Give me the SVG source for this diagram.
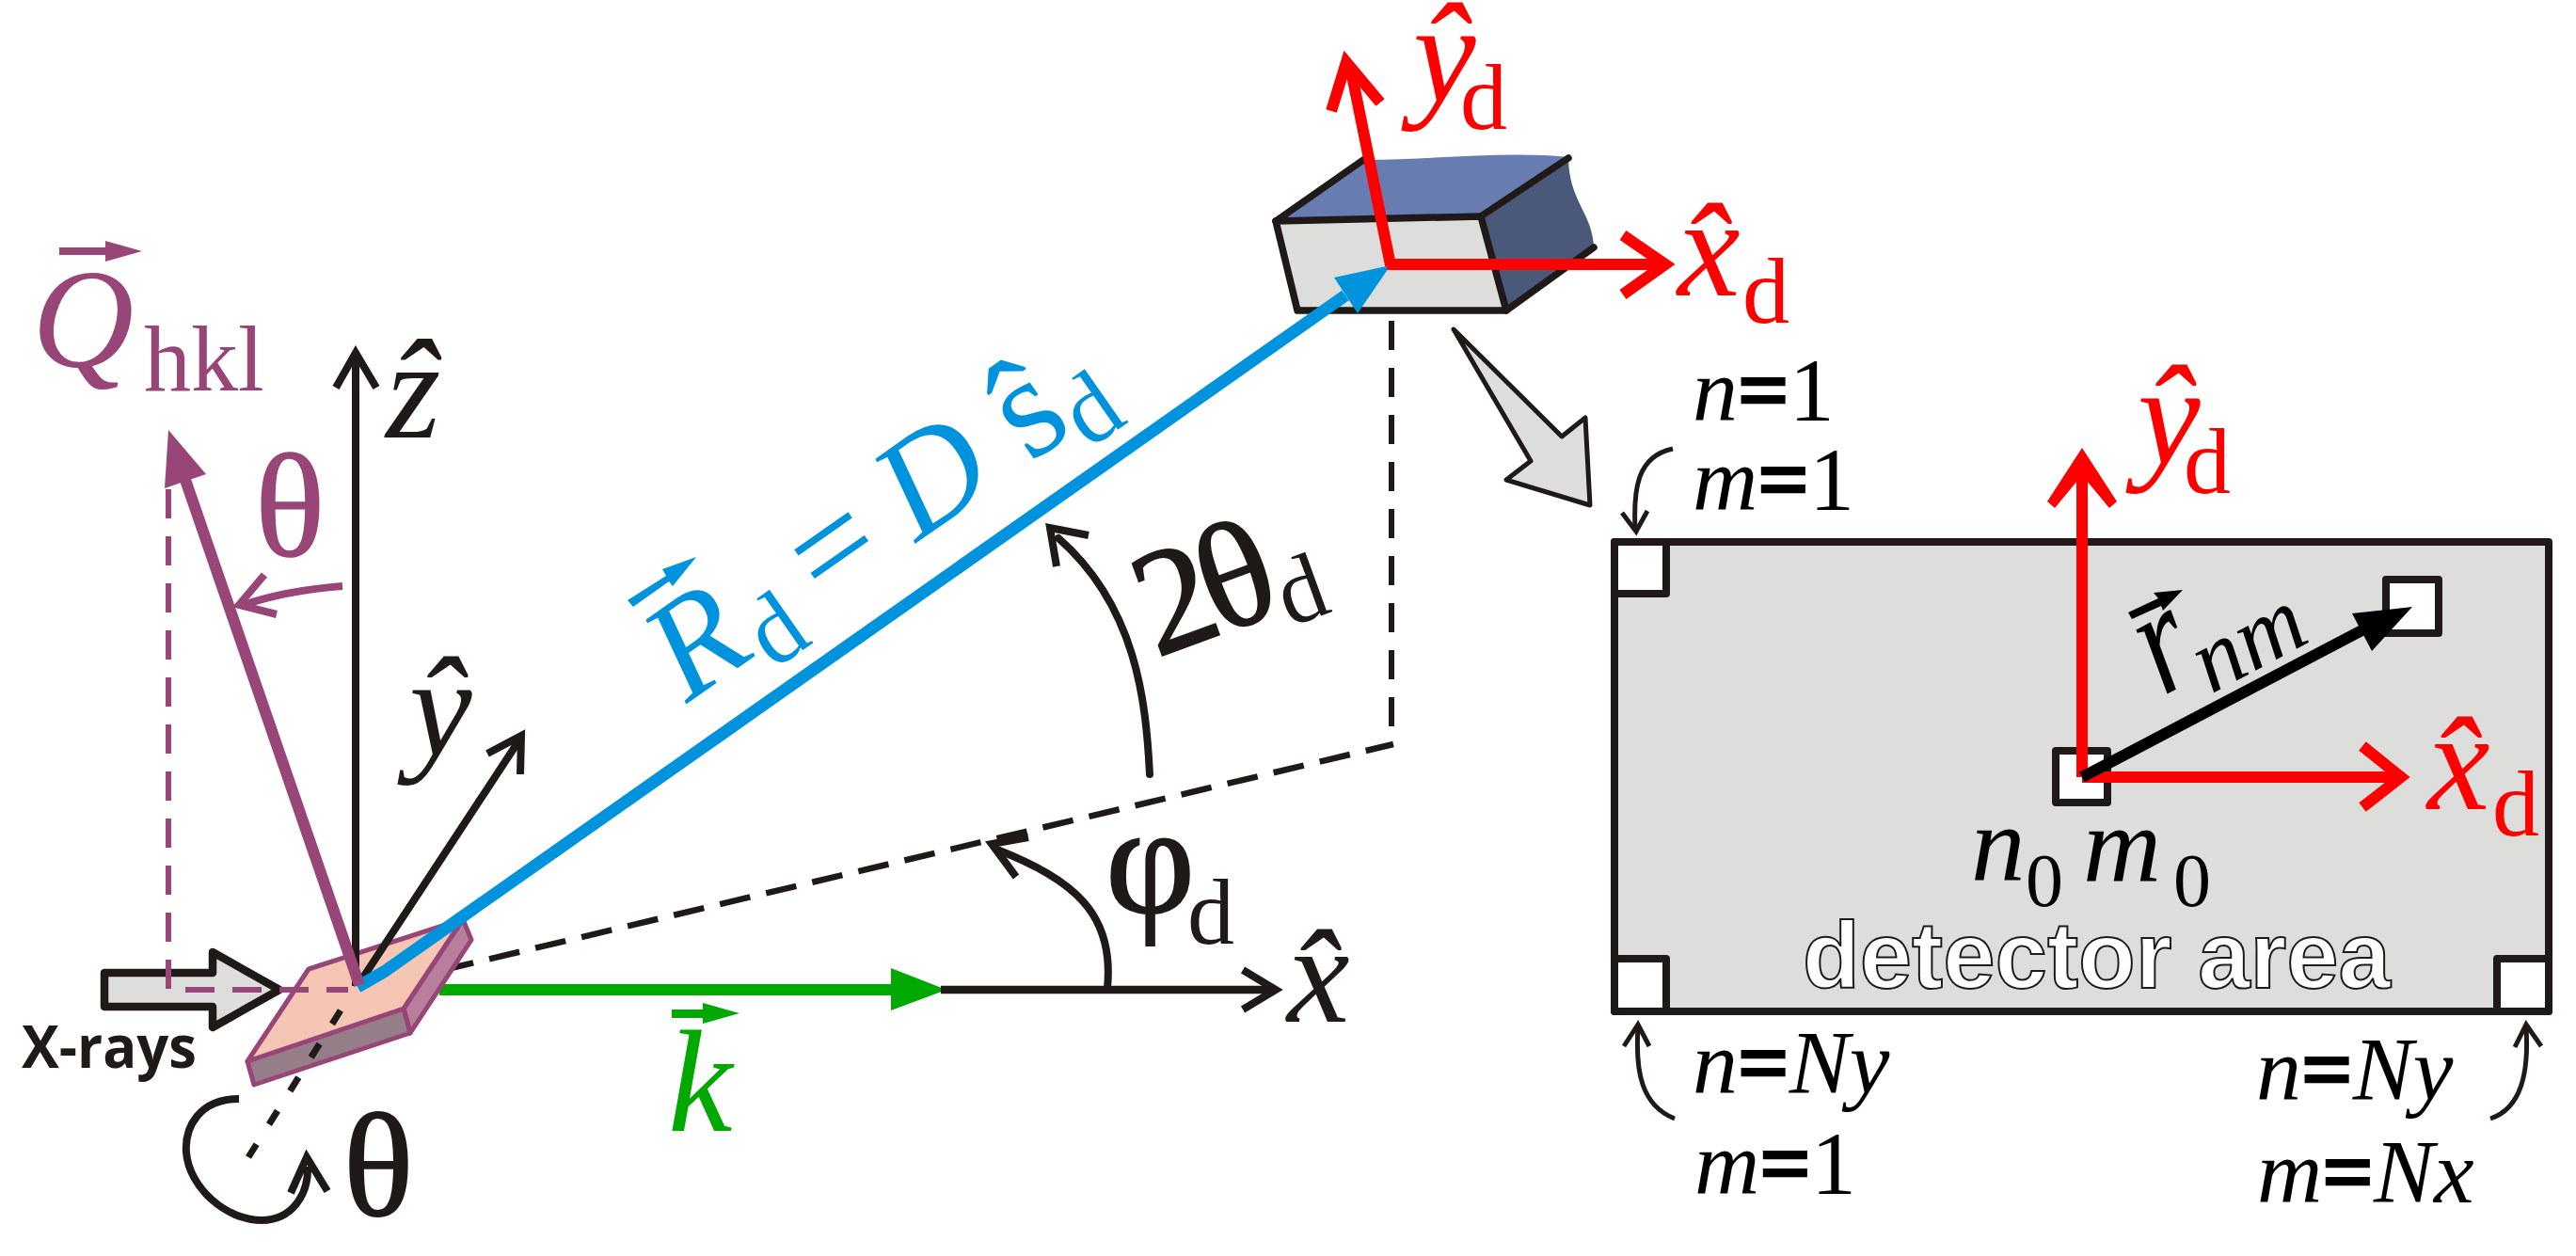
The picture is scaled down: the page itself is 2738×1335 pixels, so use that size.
<svg xmlns="http://www.w3.org/2000/svg" width="2738" height="1335" viewBox="0 0 2738 1335">
<style>
text{font-family:"Liberation Serif","Times New Roman",serif}
.i{font-style:italic}
.b{font-style:normal;font-weight:bold;stroke:#000;stroke-width:2.5}
.k{fill:#1f1a17}.p{fill:#984578}.c{fill:#0093dd}.g{fill:#00a800}.r{fill:#f00}.n{fill:#000}
.big{font-size:150px}.sub{font-size:100px}.lab{font-size:96px}
.ln{fill:none;stroke-linejoin:miter;stroke-linecap:butt}
.sk{stroke:#1f1a17}.sp{stroke:#984578}.sr{stroke:#f00}
.w8{stroke-width:8}.w12{stroke-width:12}.w5{stroke-width:5}
.dash{stroke-dasharray:31 19;stroke-width:6}
.px{fill:#fff;stroke:#1f1a17;stroke-width:8;stroke-linejoin:round}
.hv{stroke-width:2;stroke:#1f1a17}
</style>
<rect width="2738" height="1335" fill="#fff"/>
<g id="connectors">
<path class="ln sk" d="M471,1031 L1481,791" style="stroke-width:6.5;stroke-dasharray:33 17.4"/>
<path class="ln sk dash" d="M1479,291 V791"/>
<path d="M467,1052 H950" class="ln" stroke="#00a800" stroke-width="12"/>
<polygon points="947,1029 1006,1052 947,1074" class="g"/>
<path class="ln sk" d="M1000,1052 H1356" style="stroke-width:8.5"/>
<path class="ln sk w8" d="M1321,1031 L1356,1052 L1321,1073"/>
</g>
<g id="sample">
<polygon points="492,977 501,999 436,1098 429,1072" fill="#b87f9c" stroke="#984578" stroke-width="5" stroke-linejoin="round"/>
<polygon points="263,1128 429,1072 436,1098 270,1153" fill="#967e89" stroke="#984578" stroke-width="5" stroke-linejoin="round"/>
<polygon points="263,1128 328,1030 492,977 429,1072" fill="#f5c6b4" stroke="#984578" stroke-width="5" stroke-linejoin="round"/>
</g>
<g id="xray-beam">
<polygon points="111,1034 226,1034 226,1012 297,1052 226,1092 226,1070 111,1070" fill="#dddedc" stroke="#1f1a17" stroke-width="8.5" stroke-linejoin="round"/>
<text x="23" y="1135" font-weight="bold" class="k" style="font-family:'Open Sans',sans-serif;font-size:62px" textLength="186" lengthAdjust="spacingAndGlyphs">X-rays</text>
</g>
<g id="axes">
<path class="ln sp dash" d="M179,520 V1052 H370"/>
<path class="ln sk" d="M362,1074 L264,1230" style="stroke-width:7;stroke-dasharray:17 25"/>
<path class="ln sk w8" d="M378,1048 V378"/>
<path class="ln sk w8" d="M357,412 L378,375 L400,412"/>
<path class="ln sk w8" d="M382,1045 L553,785"/>
<path class="ln sk w8" d="M518,801 L554,782 L553,823"/>
<path class="ln sk w8" d="M254,1168 C212,1168 196,1198 198,1225 C201,1262 240,1297 278,1297 C310,1297 328,1270 327,1240"/>
<path class="ln sk w8" d="M309,1268 L326,1230 L348,1266"/>
<path class="ln sk w8" style="stroke-linecap:round" d="M1222,823 C1218,745 1208,645 1125,572"/>
<path class="ln sk w8" d="M1123,602 L1116,561 L1157,569"/>
<path class="ln sk w8" d="M1177,1050 C1185,970 1140,935 1060,903"/>
<path class="ln sk w8" d="M1080,932 L1054,897 L1093,890"/>
</g>
<g id="detector-3d">
<path fill="#677cb1" d="M1356,235 L1449,170 C1520,170 1600,160 1667,167 L1574,230 Z"/>
<path fill="#4a5879" d="M1574,230 L1667,168 C1668,215 1692,225 1694,262 L1601,330 Z"/>
<polygon points="1356,235 1574,230 1601,330 1379,330" fill="#dddedc" stroke="#1f1a17" stroke-width="7.5" stroke-linejoin="round"/>
<path class="ln sk" style="stroke-width:7.5;stroke-linecap:round" d="M1356,235 L1449,170 M1574,230 L1667,168 M1601,330 L1694,263"/>
</g>
<g id="beam-vectors">
<path class="ln" stroke="#0093dd" stroke-width="13" d="M380,1049 L408,1033 L1430,314"/>
<polygon class="c" points="1478,282 1418,295 1443,333"/>
<path class="ln sp w12" d="M382,1047 L197,510"/>
<polygon class="p" points="179,457 219,504 175,519"/>
<path class="ln sp w8" d="M364,623 C325,626 290,632 256,644"/>
<path class="ln sp w8" d="M281,611 L254,643 L294,653"/>
</g>
<g id="detector-axes">
<path class="ln sr w12" d="M1478,282 L1435,70"/>
<path class="ln sr w12" d="M1415,118 L1431,66 L1467,109"/>
<path class="ln sr w12" d="M1474,281 H1765"/>
<path class="ln sr w12" d="M1725,250 L1770,281 L1725,313"/>
</g>
<g id="zoom-arrow">
<polygon points="1545,350 1660,464 1685,444 1690,537 1601,510 1627,490" fill="#dddedc" stroke="#1f1a17" stroke-width="5" stroke-linejoin="round"/>
</g>
<g id="detector-area">
<rect x="1716" y="576" width="993" height="499" fill="#dddedc" stroke="#1f1a17" stroke-width="8" stroke-linejoin="round"/>
<rect class="px" x="1716" y="576" width="55" height="55"/>
<rect class="px" x="1716" y="1019" width="55" height="56"/>
<rect class="px" x="2654" y="1019" width="55" height="56"/>
<rect class="px" x="2536" y="616" width="56" height="57"/>
<rect class="px" x="2185" y="798" width="55" height="55"/>
<text x="1916" y="1050" fill="#fff" stroke="#1f1a17" stroke-width="2" style="font-family:'Liberation Sans',Arial,sans-serif;font-weight:bold;font-size:99.5px">detector area</text>
</g>
<g id="detector-vectors">
<path class="ln sr w12" d="M2213,826 V490"/>
<polygon class="r" points="2176,533 2213,476 2250,533 2242,540 2213,505 2184,540"/>
<path class="ln sr w12" d="M2213,826 H2550"/>
<path class="ln sr w12" d="M2511,793 L2552,826 L2511,858"/>
<path class="ln" stroke="#000" stroke-width="12" d="M2213,826 L2520,665"/>
<polygon class="n" points="2564,645 2500,652 2521,692"/>
</g>
<g id="small-arrows">
<path class="ln sk w5" d="M1778,477 C1740,485 1736,520 1738,562"/>
<path class="ln sk w5" d="M1724,545 L1739,565 L1751,543"/>
<path class="ln sk w5" d="M1780,1189 C1745,1175 1738,1140 1741,1092"/>
<path class="ln sk w5" d="M1726,1112 L1741,1089 L1753,1112"/>
<path class="ln sk w5" d="M2647,1189 C2680,1178 2688,1140 2685,1092"/>
<path class="ln sk w5" d="M2673,1113 L2685,1089 L2701,1112"/>
</g>
<g id="labels">
<g id="label-q"><polygon class="p" points="63,263 112,263 112,256 151,267 112,278 112,271 63,271"/>
<text class="p i big" x="34" y="390">Q</text><text class="p sub" x="153" y="415">hkl</text></g>
<text id="label-theta-q" class="p" x="271" y="590" stroke="#984578" stroke-width="1.5" style="font-size:155px">θ</text>
<text id="label-z" class="k i big" x="410" y="465">ẑ</text>
<text id="label-y" class="k i big" x="435" y="803">ŷ</text>
<text id="label-x" class="k i big" x="1368" y="1086">x̂</text>
<text id="label-theta" class="k hv" x="365" y="1291" style="font-size:155px">θ</text>
<g id="label-k"><polygon class="g" points="714,1073 747,1073 747,1066 786,1077 747,1088 747,1082 714,1082"/>
<text class="g i" x="710" y="1202" style="font-size:154px">k</text></g>
<g id="label-r"><polygon class="c" points="667,638 708,612 704,605 740,592 715,623 711,618 673,645"/>
<g transform="translate(730,748) rotate(-35)" class="c">
<text class="i big" x="0" y="0">R</text>
<text class="sub" x="96" y="24" style="font-size:105px">d</text>
<text class="big" x="180" y="0">=</text>
<text class="i big" x="298" y="0">D</text>
<text x="445" y="0" style="font-size:155px">ŝ</text>
<text class="sub" x="505" y="24" style="font-size:105px">d</text>
</g></g>
<g id="label-2theta" transform="translate(1229,699) rotate(-20)" class="k">
<text class="hv" x="0" y="0" style="font-size:160px">2</text><text class="hv" x="70" y="0" style="font-size:160px">θ</text><text class="sub" x="144" y="18">d</text>
</g>
<g id="label-phi" class="k"><text class="hv" x="1175" y="970" style="font-size:165px">φ</text><text class="sub" x="1262" y="1003">d</text></g>
<g id="label-yd-top" class="r"><text class="i big" x="1502" y="108">ŷ</text><text class="sub" x="1552" y="137">d</text></g>
<g id="label-xd-top" class="r"><text class="i big" x="1783" y="314">x̂</text><text class="sub" x="1852" y="343">d</text></g>
<g id="label-yd" class="r"><text class="i big" x="2272" y="493">ŷ</text><text class="sub" x="2321" y="524">d</text></g>
<g id="label-xd" class="r"><text class="i big" x="2580" y="860">x̂</text><text class="sub" x="2649" y="888">d</text></g>
<g id="label-rnm" class="n">
<polygon points="2320,627 2289,630 2294,636 2262,651 2266,658 2297,644 2299,649"/>
<text class="i" transform="translate(2299,740) rotate(-28) scale(.78,1)" style="font-size:165px">r</text>
<text class="i" transform="translate(2350,738) rotate(-28)" style="font-size:100px">nm</text>
</g>
<g id="label-n0m0" class="n">
<text class="i" x="2095" y="936" style="font-size:115px">n</text><text x="2153" y="963" style="font-size:80px">0</text>
<text class="i" x="2214" y="936" style="font-size:115px">m</text><text x="2310" y="963" style="font-size:80px">0</text>
</g>
<g id="label-n1-m1" class="n lab">
<text class="i" x="1799" y="447">n<tspan class="b">=</tspan><tspan style="font-style:normal">1</tspan></text>
<text class="i" x="1799" y="542">m<tspan class="b">=</tspan><tspan style="font-style:normal">1</tspan></text>
</g>
<g id="label-ny-m1" class="n lab">
<text class="i" x="1799" y="1162">n<tspan class="b">=</tspan>Ny</text>
<text class="i" x="1801" y="1269">m<tspan class="b">=</tspan><tspan style="font-style:normal">1</tspan></text>
</g>
<g id="label-ny-nx" class="n lab">
<text class="i" x="2398" y="1169">n<tspan class="b">=</tspan>Ny</text>
<text class="i" x="2399" y="1278">m<tspan class="b">=</tspan>Nx</text>
</g>
</g>
</svg>
